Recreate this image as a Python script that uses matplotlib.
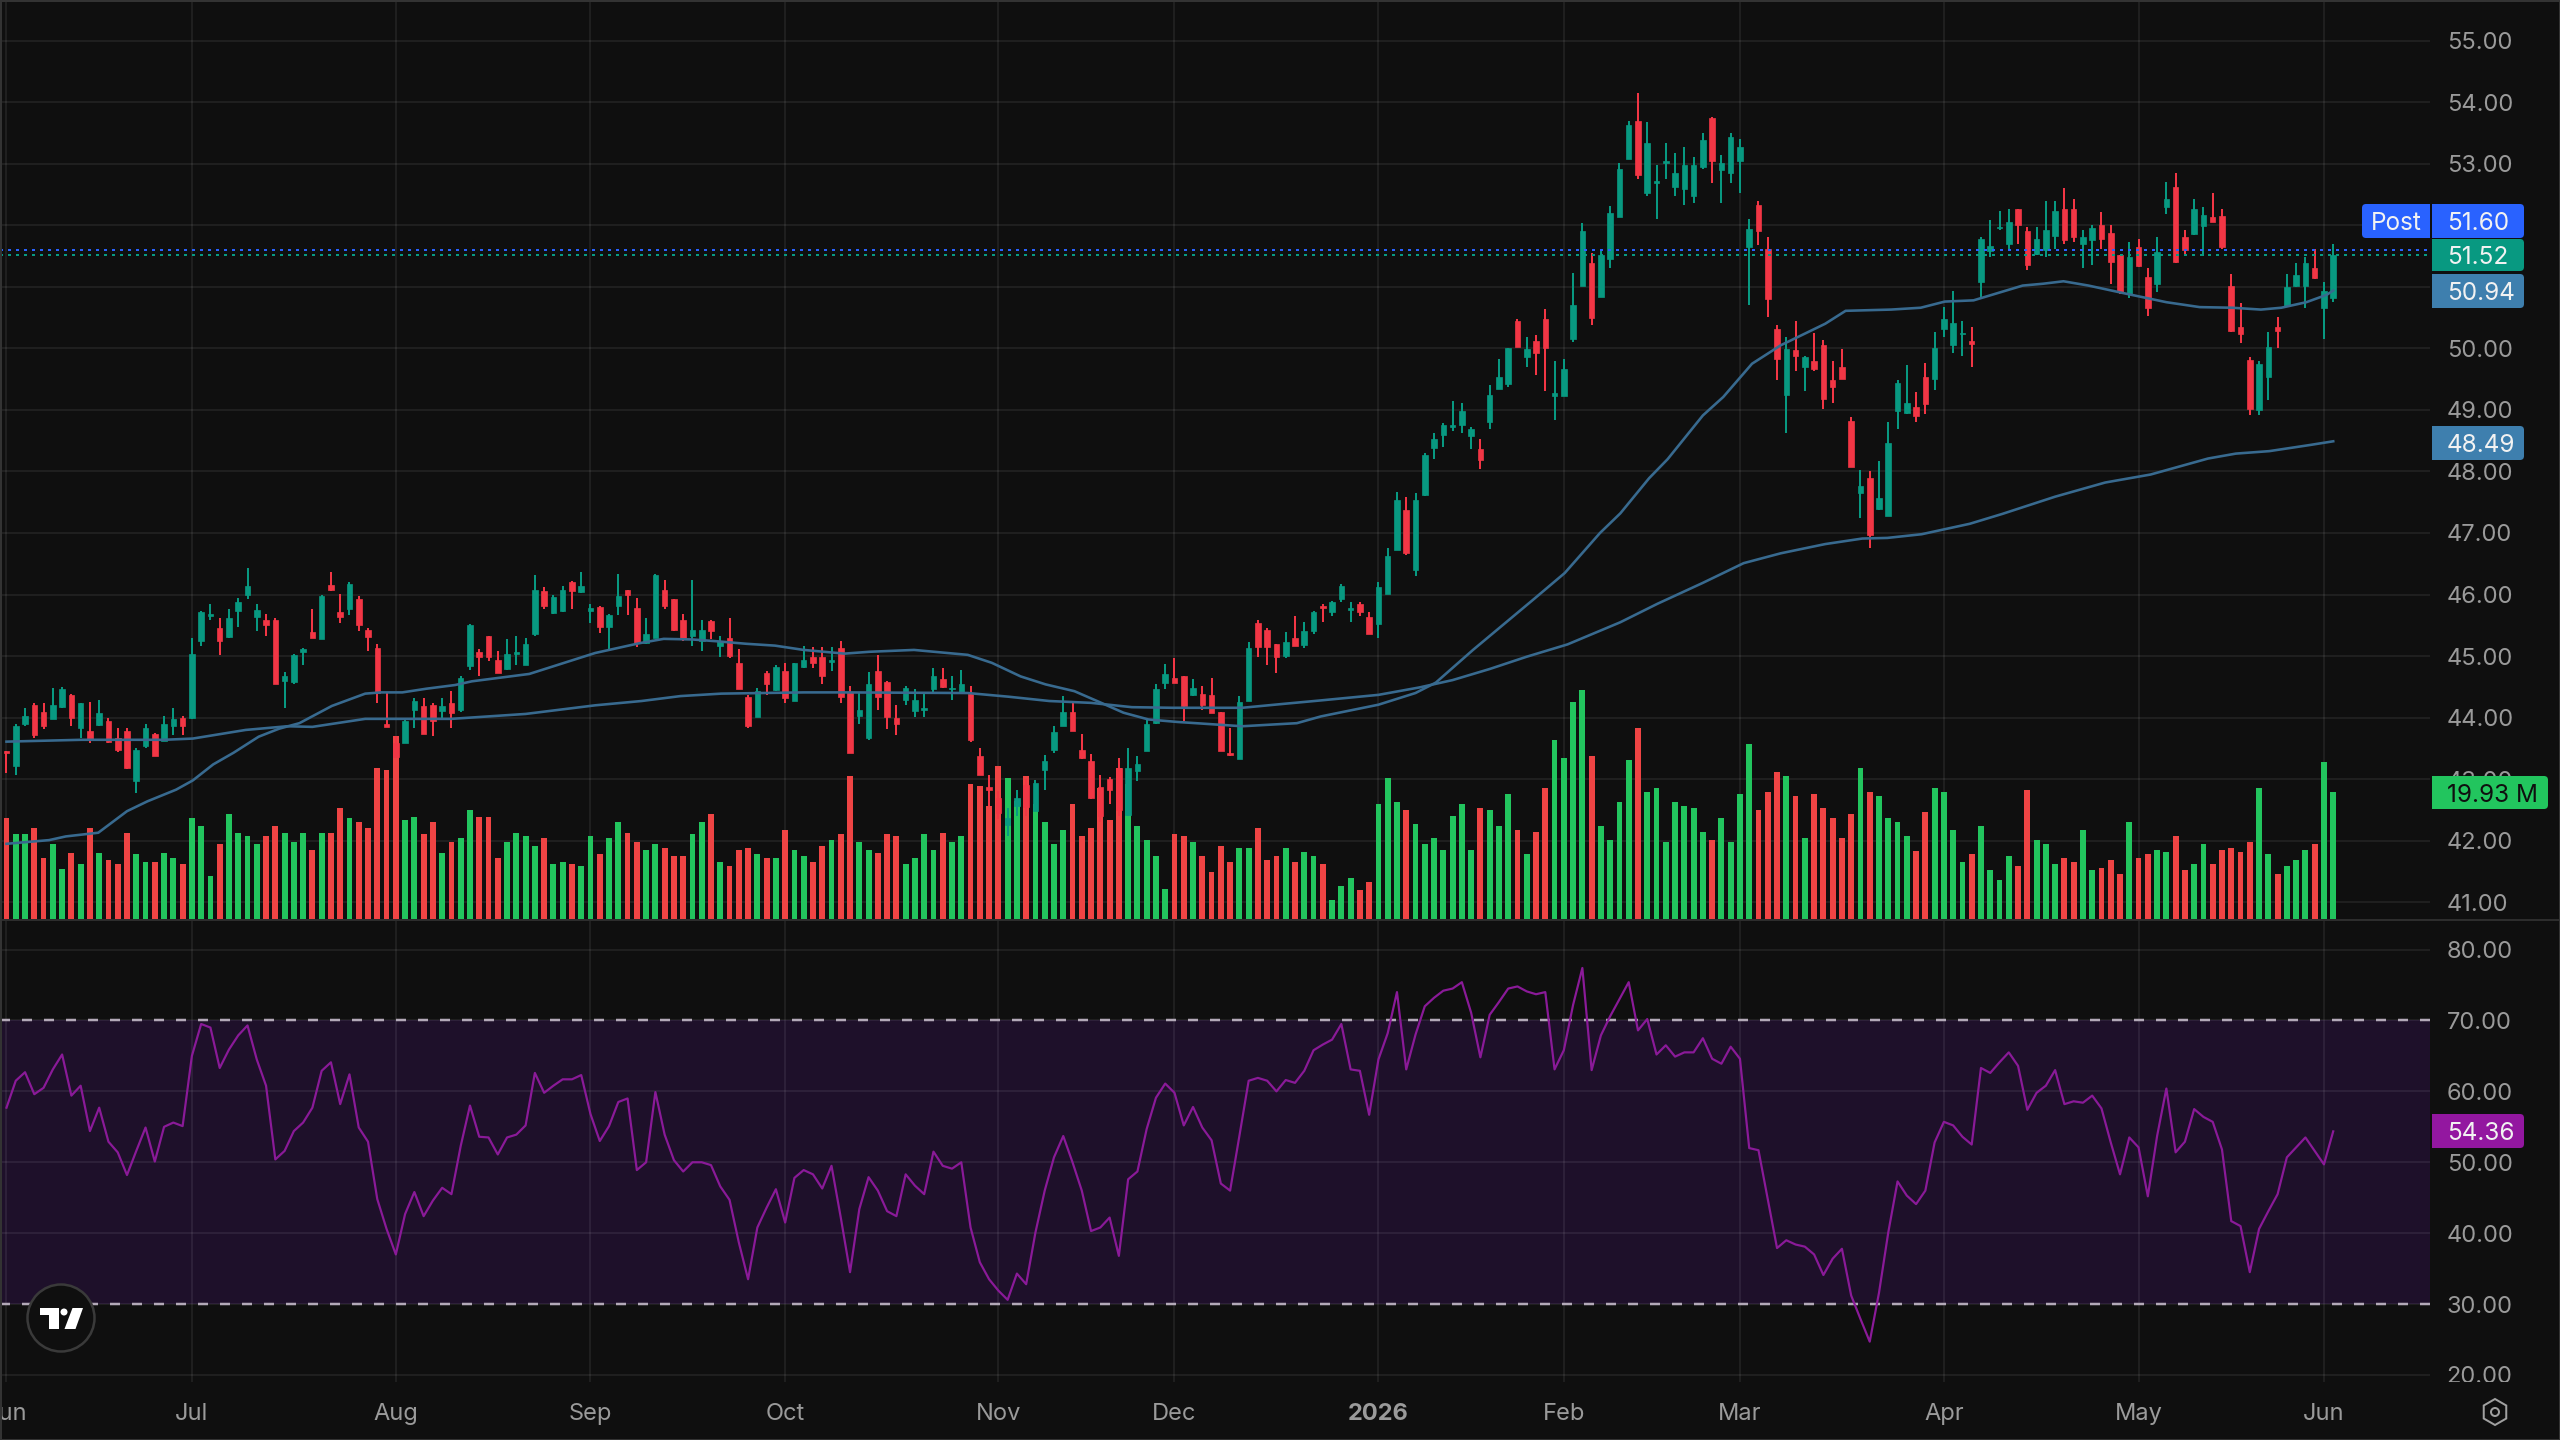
import matplotlib
matplotlib.use("Agg")
import matplotlib.pyplot as plt
from matplotlib.patches import Rectangle, FancyBboxPatch, Circle, Polygon, RegularPolygon

plt.rcParams["font.family"] = ["Inter", "DejaVu Sans"]

# daily candles, oldest first
opens = [
    43.45, 43.22, 43.90, 44.20, 44.09, 43.98, 44.17, 44.36, 43.83, 43.78,
    43.88, 43.94, 43.67, 43.78, 42.97, 43.54, 43.74, 43.62, 43.87, 44.00,
    44.00, 45.24, 45.65, 45.46, 45.31, 45.73, 45.99, 45.63, 45.58, 45.59,
    44.59, 44.58, 45.07, 45.39, 45.27, 46.15, 45.72, 45.76, 45.92, 45.42,
    45.13, 43.90, 43.58, 43.59, 44.13, 44.19, 44.20, 44.10, 44.23, 44.12,
    44.84, 45.07, 45.32, 44.94, 44.79, 45.04, 44.85, 45.36, 46.05, 45.70,
    45.73, 46.21, 46.04, 45.73, 45.79, 45.47, 45.82, 46.07, 45.78, 45.21,
    45.30, 46.08, 45.92, 45.59, 45.33, 45.24, 45.57, 45.17, 45.30, 44.88,
    44.33, 44.01, 44.72, 44.45, 44.75, 44.27, 44.82, 44.99, 44.99, 44.91,
    45.13, 44.41, 44.02, 43.67, 44.75, 44.58, 44.00, 44.29, 44.10, 44.13,
    44.46, 44.62, 44.46, 44.41, 44.39, 43.38, 42.87, 42.70, 42.25, 42.56,
    42.90, 42.48, 43.15, 43.48, 43.87, 44.09, 43.47, 43.29, 42.88, 43.00,
    43.18, 42.41, 43.13, 43.45, 43.91, 44.56, 44.65, 44.68, 44.36, 44.39,
    44.36, 44.09, 43.42, 43.32, 44.27, 45.53, 45.43, 45.20,
    45.00, 45.29, 45.18, 45.40, 45.81, 45.71, 45.92, 45.75, 45.85, 45.64,
    45.52, 46.01, 46.72, 47.37, 46.40, 47.61, 48.38, 48.59, 48.72, 48.76,
    48.57, 48.37, 48.80, 49.34, 49.42, 50.45, 49.86, 50.12, 50.48, 49.22,
    49.23, 50.15, 51.01, 51.38, 50.84, 51.45, 52.14, 53.08, 53.70, 52.53,
    52.68, 53.01, 52.62, 52.59, 52.47, 52.94, 53.74, 52.89, 52.85, 53.05,
    51.65, 52.33, 51.62, 50.32, 49.24, 49.98, 49.69, 49.79, 50.06, 49.48,
    49.69, 48.82, 47.65, 47.89, 47.39, 47.27, 48.99, 48.95, 49.04,
    49.54, 49.51, 50.32, 50.06, 50.23, 50.12, 51.07, 51.58, 51.95, 51.69,
    52.27, 51.91, 51.54, 51.59, 51.83, 52.27, 52.27, 51.69, 51.76, 52.00,
    51.88, 51.51, 50.89, 51.65, 51.16, 51.05, 52.30, 52.62, 51.81, 51.85,
    51.99, 52.14, 52.15, 51.02, 50.35, 49.81, 49.00, 49.54, 50.35, 50.69,
    51.01, 51.02, 51.30, 50.65, 50.82,
]
closes = [
    43.42, 43.87, 44.03, 43.72, 43.87, 44.20, 44.46, 44.00, 44.23, 43.66,
    44.07, 43.60, 43.48, 43.18, 43.48, 43.83, 43.38, 43.90, 43.97, 43.87,
    45.04, 45.72, 45.69, 45.24, 45.62, 45.88, 46.14, 45.75, 45.50, 44.55,
    44.68, 45.01, 45.11, 45.30, 45.98, 46.08, 45.63, 46.17, 45.50, 45.31,
    44.40, 43.84, 43.36, 43.94, 44.27, 43.74, 43.94, 44.19, 44.08, 44.65,
    45.50, 44.98, 44.99, 44.73, 45.04, 45.06, 45.20, 46.08, 45.82, 45.96,
    46.08, 46.05, 46.14, 45.78, 45.47, 45.66, 45.97, 45.99, 45.21, 45.36,
    46.31, 45.82, 45.43, 45.30, 45.43, 45.43, 45.40, 45.24, 45.00, 44.46,
    43.87, 44.43, 44.55, 44.82, 44.32, 44.88, 44.94, 44.88, 44.68, 44.94,
    44.34, 43.43, 44.13, 44.55, 44.34, 44.01, 43.90, 44.48, 44.29, 44.16,
    44.68, 44.49, 44.48, 44.55, 43.63, 43.06, 42.83, 42.45, 42.37, 42.70,
    42.55, 42.93, 43.30, 43.77, 44.09, 43.78, 43.35, 42.70, 42.40, 42.83,
    42.50, 43.18, 43.25, 43.90, 44.46, 44.71, 44.56, 44.19, 44.48, 44.20,
    44.08, 43.45, 43.39, 44.26, 45.13, 45.15, 45.15, 44.99,
    45.23, 45.17, 45.40, 45.72, 45.78, 45.88, 46.14, 45.78, 45.71, 45.36,
    46.13, 46.63, 47.53, 46.67, 47.53, 48.27, 48.53, 48.76, 48.76, 48.98,
    48.69, 48.18, 49.24, 49.53, 50.00, 50.03, 49.99, 49.93, 50.00, 49.27,
    49.67, 50.70, 51.90, 50.49, 51.52, 52.20, 52.92, 53.63, 52.81, 53.34,
    52.72, 53.04, 52.85, 52.98, 52.98, 53.38, 53.05, 53.01, 53.44, 53.27,
    51.94, 51.91, 50.80, 49.83, 49.99, 49.87, 49.86, 49.67, 49.18, 49.38,
    49.50, 48.07, 47.76, 46.97, 47.57, 48.46, 49.44, 49.11, 48.90,
    49.09, 50.00, 50.48, 50.42, 50.25, 50.07, 51.78, 51.66, 51.97, 52.05,
    52.01, 51.36, 51.78, 51.92, 52.23, 51.76, 51.81, 51.81, 51.95, 51.78,
    51.40, 50.92, 51.49, 51.33, 50.65, 51.56, 52.42, 51.40, 51.59, 52.27,
    52.16, 52.05, 51.65, 50.28, 50.23, 49.02, 49.74, 50.02, 50.28, 51.00,
    51.19, 51.38, 51.14, 50.93, 51.52,
]
highs = [
    43.45, 43.90, 44.16, 44.23, 44.23, 44.48, 44.50, 44.39, 44.24, 44.26,
    44.29, 44.00, 43.83, 43.83, 43.51, 43.90, 43.75, 44.02, 44.16, 44.02,
    45.30, 45.73, 45.85, 45.62, 45.76, 45.95, 46.43, 45.85, 45.69, 45.62,
    44.74, 45.04, 45.13, 45.76, 46.00, 46.37, 46.01, 46.20, 45.98, 45.46,
    45.20, 44.40, 43.70, 43.97, 44.32, 44.32, 44.24, 44.32, 44.43, 44.67,
    45.52, 45.11, 45.33, 45.08, 45.27, 45.33, 45.30, 46.31, 46.12, 46.00,
    46.14, 46.22, 46.37, 45.85, 45.82, 45.69, 46.34, 46.08, 45.95, 45.62,
    46.34, 46.24, 45.92, 45.69, 46.24, 45.59, 45.59, 45.32, 45.62, 45.11,
    44.37, 44.48, 44.75, 44.85, 44.88, 44.88, 45.17, 45.14, 45.14, 45.14,
    45.24, 44.52, 44.40, 44.74, 45.01, 44.59, 44.20, 44.52, 44.46, 44.41,
    44.81, 44.81, 44.68, 44.78, 44.52, 43.51, 43.06, 42.80, 42.53, 42.83,
    43.00, 42.99, 43.39, 43.86, 44.35, 44.23, 43.74, 43.41, 43.06, 43.04,
    43.34, 43.51, 43.38, 43.97, 44.55, 44.87, 44.97, 44.68, 44.62, 44.52,
    44.65, 44.09, 43.83, 44.35, 45.23, 45.59, 45.46, 45.20,
    45.39, 45.65, 45.55, 45.73, 45.85, 45.90, 46.17, 45.88, 45.88, 45.71,
    46.20, 46.75, 47.66, 47.59, 47.65, 48.30, 48.63, 48.78, 49.14, 49.11,
    48.72, 48.53, 49.41, 49.83, 50.00, 50.48, 50.18, 50.21, 50.64, 49.80,
    49.83, 51.22, 52.03, 51.55, 51.60, 52.32, 53.01, 53.69, 54.15, 53.67,
    52.98, 53.34, 53.18, 53.27, 53.11, 53.50, 53.76, 53.14, 53.50, 53.40,
    52.10, 52.39, 51.81, 50.38, 50.18, 50.44, 49.88, 50.25, 50.14, 49.79,
    49.99, 48.89, 48.02, 48.00, 48.17, 48.81, 49.48, 49.73, 49.29,
    49.77, 50.26, 50.67, 50.94, 50.44, 50.35, 51.81, 52.08, 52.23, 52.27,
    52.27, 51.97, 51.97, 52.40, 52.40, 52.60, 52.43, 51.92, 52.00, 52.21,
    52.01, 51.52, 51.72, 51.78, 51.31, 51.81, 52.70, 52.85, 51.92, 52.43,
    52.30, 52.53, 52.27, 51.20, 50.74, 49.86, 49.79, 50.26, 50.51, 51.20,
    51.39, 51.49, 51.61, 51.07, 51.69,
]
lows = [
    43.10, 43.06, 43.86, 43.67, 43.81, 43.97, 44.16, 43.87, 43.67, 43.58,
    43.86, 43.58, 43.44, 43.16, 42.77, 43.51, 43.38, 43.62, 43.71, 43.71,
    43.97, 45.17, 45.59, 45.01, 45.30, 45.47, 45.92, 45.40, 45.33, 44.55,
    44.16, 44.55, 44.85, 45.30, 45.27, 46.05, 45.53, 45.66, 45.40, 45.08,
    44.24, 43.84, 43.35, 43.58, 43.83, 43.74, 43.70, 44.00, 43.83, 44.09,
    44.78, 44.68, 44.92, 44.72, 44.78, 44.85, 44.85, 45.33, 45.76, 45.69,
    45.72, 45.76, 46.03, 45.53, 45.37, 45.11, 45.66, 45.66, 45.15, 45.20,
    45.30, 45.76, 45.40, 45.24, 45.17, 45.08, 45.27, 44.99, 44.97, 44.46,
    43.83, 44.01, 44.36, 44.43, 44.23, 44.27, 44.81, 44.81, 44.55, 44.75,
    44.23, 43.43, 43.90, 43.64, 44.13, 43.81, 43.71, 44.20, 44.01, 44.01,
    44.39, 44.48, 44.29, 44.39, 43.61, 43.06, 42.56, 42.35, 42.07, 42.40,
    42.40, 42.48, 42.83, 43.43, 43.87, 43.78, 43.32, 42.67, 42.30, 42.60,
    42.40, 42.40, 42.97, 43.45, 43.90, 44.46, 44.56, 43.94, 44.35, 44.13,
    44.08, 43.45, 43.38, 43.32, 44.27, 44.99, 44.85, 44.73,
    44.97, 45.16, 45.13, 45.36, 45.55, 45.65, 45.88, 45.55, 45.65, 45.36,
    45.29, 46.01, 46.72, 46.65, 46.30, 47.60, 48.20, 48.40, 48.66, 48.63,
    48.37, 48.04, 48.69, 49.34, 49.37, 50.03, 49.69, 49.57, 49.31, 48.83,
    49.22, 50.10, 51.01, 50.38, 50.84, 51.30, 52.14, 53.08, 52.75, 52.47,
    52.10, 52.75, 52.47, 52.33, 52.36, 52.92, 52.69, 52.36, 52.69, 52.53,
    50.71, 51.68, 50.51, 49.48, 48.63, 49.64, 49.31, 49.64, 49.02, 49.11,
    49.50, 48.07, 47.24, 46.75, 47.38, 47.27, 48.69, 48.93, 48.80,
    48.94, 49.32, 50.19, 49.93, 49.87, 49.70, 50.82, 51.49, 51.92, 51.59,
    51.69, 51.27, 51.52, 51.49, 51.62, 51.70, 51.73, 51.30, 51.36, 51.62,
    51.04, 50.89, 50.82, 51.32, 50.53, 50.92, 52.19, 51.38, 51.52, 51.84,
    51.50, 52.05, 51.62, 50.26, 50.09, 48.92, 48.92, 49.16, 50.00, 50.67,
    51.00, 50.66, 51.13, 50.16, 50.75,
]

# volume in millions
volumes = [
    15.8, 13.4, 13.4, 14.3, 9.6, 11.8, 8.0, 10.5, 8.7, 14.3,
    10.5, 9.3, 8.7, 13.6, 10.3, 9.0, 9.0, 10.5, 9.6, 8.7,
    15.8, 14.6, 6.9, 11.8, 16.5, 13.6, 13.1, 11.8, 13.1, 14.6,
    13.6, 12.1, 13.6, 10.9, 13.6, 13.6, 17.4, 15.8, 15.2, 14.3,
    23.6, 23.4, 28.6, 15.6, 16.1, 13.4, 15.2, 10.5, 12.1, 12.7,
    17.1, 16.1, 16.1, 9.6, 12.1, 13.6, 13.1, 11.5, 12.7, 8.7,
    9.0, 8.7, 8.4, 13.1, 10.3, 12.7, 15.2, 13.6, 12.1,
    10.9, 11.8, 11.2, 10.0, 10.0, 13.4, 15.2, 16.5, 9.0, 8.4,
    10.9, 11.2, 10.3, 9.6, 9.6, 14.0, 10.9, 10.0, 9.0, 11.5,
    12.5, 13.4, 22.4, 12.1, 10.9, 10.5, 13.4, 13.1, 8.7, 9.6,
    13.4, 10.9, 13.6, 12.1, 13.1, 21.2, 20.9, 17.8, 24.0, 22.1,
    18.5, 22.4, 18.1, 15.2, 11.8, 14.0, 18.1, 13.1, 14.3, 20.5,
    15.6, 23.6, 21.2, 14.6, 12.5, 10.0, 4.9, 13.4, 13.1, 12.1,
    10.0, 7.5, 11.5, 9.0, 11.2, 11.2, 14.3, 9.3, 10.0,
    11.2, 9.0, 10.6, 10.0, 8.7, 3.1, 5.3, 6.5, 4.7, 5.9,
    18.1, 22.1, 18.4, 17.1, 14.9, 11.8, 12.8, 10.9, 16.2, 18.1,
    10.9, 17.4, 17.1, 14.6, 19.6, 14.0, 10.3, 13.7, 20.6, 28.0,
    25.2, 33.9, 35.8, 25.5, 14.6, 12.5, 18.4, 24.9, 29.9, 19.9,
    20.6, 12.1, 18.4, 17.8, 17.4, 13.7, 12.5, 15.9, 12.1, 19.6,
    27.4, 17.1, 19.9, 23.0, 22.4, 19.3, 12.8, 19.6, 17.4, 15.9,
    12.8, 16.5, 23.7, 19.9, 19.3, 15.9, 15.3, 13.1, 10.8,
    16.8, 20.6, 19.9, 14.0, 9.0, 10.3, 14.6, 7.8, 6.2, 10.0,
    8.4, 20.2, 12.5, 11.8, 8.7, 9.7, 9.0, 14.0, 7.8, 8.1,
    9.3, 7.2, 15.3, 9.7, 10.3, 10.9, 10.6, 13.1, 7.8, 8.7,
    11.8, 8.7, 10.9, 11.2, 10.6, 12.1, 20.6, 10.3, 7.2, 8.4,
    9.3, 10.9, 11.8, 24.6, 19.93,
]

rsi = [
    57.7, 61.5, 62.7, 59.6, 60.5, 63.1, 65.2, 59.4, 60.8, 54.4,
    57.7, 52.9, 51.4, 48.2, 51.6, 54.9, 50.1, 55.0, 55.6, 55.1,
    65.0, 69.5, 69.0, 63.3, 65.9, 67.9, 69.3, 64.5, 60.8, 50.4,
    51.6, 54.4, 55.6, 57.7, 62.9, 64.1, 58.2, 62.4, 54.9, 52.9,
    44.8, 40.6, 37.0, 42.7, 45.8, 42.4, 44.6, 46.4, 45.5, 52.3,
    58.0, 53.6, 53.5, 51.1, 53.5, 53.9, 55.2, 62.6, 59.8, 60.8,
    61.7, 61.7, 62.3, 56.8, 53.0, 55.1, 58.5, 59.0, 48.9, 50.0,
    59.9, 53.9, 50.3, 48.7, 50.0, 50.0, 49.6, 46.6, 44.7, 38.7,
    33.5, 40.8, 43.6, 46.2, 41.5, 47.8, 48.9, 48.3, 46.3, 49.5,
    42.2, 34.5, 43.4, 47.9, 46.0, 43.1, 42.4, 48.3, 46.7, 45.5,
    51.5, 49.5, 49.1, 50.0, 40.8, 35.9, 33.5, 31.9, 30.6, 34.3,
    32.8, 40.1, 46.0, 50.7, 53.7, 50.0, 46.0, 40.3, 40.8, 42.2,
    36.8, 47.6, 48.7, 54.7, 59.1, 61.1, 59.8, 55.2, 57.8, 54.9,
    53.1, 47.0, 46.0, 53.7, 61.5, 61.9, 61.5, 60.0,
    61.6, 61.2, 62.9, 65.8, 66.6, 67.3, 69.5, 63.1, 62.9, 56.7,
    64.5, 68.2, 74.0, 63.1, 68.0, 72.0, 73.2, 74.2, 74.5, 75.4,
    71.1, 64.8, 70.8, 72.6, 74.5, 74.8, 74.1, 73.7, 74.0, 63.1,
    65.8, 72.2, 77.4, 63.0, 67.9, 70.6, 73.0, 75.4, 68.6, 70.2,
    65.2, 66.5, 64.9, 65.5, 65.5, 67.5, 64.6, 63.9, 66.3, 64.6,
    52.0, 51.7, 44.8, 37.9, 39.0, 38.4, 38.1, 37.0, 34.1, 36.4,
    37.8, 31.2, 27.9, 24.7, 31.6, 40.1, 47.3, 45.3, 44.1,
    46.0, 52.8, 55.7, 55.2, 53.6, 52.5, 63.3, 62.6, 64.1, 65.5,
    63.6, 57.4, 59.8, 60.8, 63.0, 58.2, 58.6, 58.4, 59.4, 57.6,
    52.8, 48.3, 53.5, 52.1, 45.2, 53.7, 60.4, 51.4, 52.9, 57.5,
    56.4, 55.7, 51.8, 41.7, 41.0, 34.5, 40.6, 43.1, 45.5, 50.7,
    52.1, 53.5, 51.6, 49.7, 54.36,
]

# moving averages, read at the bar positions listed alongside
ma50_pos = [
    0, 4.6, 6.4, 9.9, 13, 15.2, 18.3, 20.1, 22.3, 24.5, 27.2, 29.4, 31.6, 35.1,
    38.7, 40.4, 42.7, 45.3, 48.4, 50.2, 56.4, 61.2, 63.5, 68.3, 70.9, 74, 76.7,
    79.8, 82.9, 86, 90.4, 93.1, 97.9, 103.7, 106.3, 109.4, 112.1, 115.2, 117.8,
    120.5, 123.2, 126.3, 133.3, 139.2, 141.8, 148, 152, 154.2, 158.2, 161.7,
    164.8, 168.1, 171.9, 174.1, 177.2, 179.2, 183, 185.2, 188.3, 191.4, 193.6,
    196.2, 198.4, 203.3, 206.5, 209.1, 212.2, 217.5, 219.7, 221.9, 224.6, 228.6,
    233, 236.6, 240.1, 243.2, 245.4, 248.1, 250.3, 251,
]
ma50 = [
    41.95, 42.01, 42.07, 42.13, 42.48, 42.64, 42.83, 42.98, 43.24, 43.43, 43.69,
    43.82, 43.91, 44.19, 44.39, 44.41, 44.41, 44.47, 44.53, 44.59, 44.71, 44.94,
    45.05, 45.21, 45.28, 45.27, 45.24, 45.20, 45.17, 45.10, 45.04, 45.07, 45.10,
    45.02, 44.89, 44.67, 44.54, 44.43, 44.26, 44.08, 43.97, 43.93, 43.86, 43.91,
    44.02, 44.21, 44.40, 44.57, 45.10, 45.54, 45.93, 46.35, 47.00, 47.32, 47.89,
    48.20, 48.91, 49.21, 49.75, 50.05, 50.21, 50.40, 50.61, 50.63, 50.66, 50.76,
    50.78, 51.02, 51.05, 51.09, 51.02, 50.89, 50.75, 50.67, 50.66, 50.63, 50.66,
    50.75, 50.87, 50.94,
]
ma200_pos = [
    0, 8.1, 17, 20.1, 25.8, 30.3, 33, 38.7, 43.5, 48, 56, 63.5, 68.5, 72.7, 77.1,
    86, 90.4, 103.7, 108.1, 112.5, 117, 121.4, 125.8, 133.3, 137.5, 141.8, 148,
    152.4, 156, 160, 164, 168.4, 174.1, 178.1, 183, 187.4, 191.4, 196.2, 200.2,
    202.9, 206.6, 211.8, 215.3, 221, 226.4, 231.3, 237.5, 240.5, 244.1, 248.5, 251,
]
ma200 = [
    43.61, 43.64, 43.64, 43.66, 43.80, 43.86, 43.85, 43.98, 43.98, 43.98, 44.06,
    44.20, 44.27, 44.35, 44.39, 44.41, 44.41, 44.40, 44.34, 44.27, 44.24, 44.17,
    44.16, 44.16, 44.22, 44.28, 44.37, 44.49, 44.61, 44.79, 44.99, 45.19, 45.55,
    45.85, 46.19, 46.51, 46.67, 46.82, 46.91, 46.92, 46.98, 47.15, 47.31, 47.59,
    47.82, 47.95, 48.21, 48.29, 48.33, 48.43, 48.49,
]

price_ticks = [41, 42, 43, 44, 45, 46, 47, 48, 49, 50, 51, 52, 53, 54, 55]
rsi_ticks = [20, 30, 40, 50, 60, 70, 80]
month_pos = [0, 20, 42, 63, 84, 107, 126, 148, 168, 187, 209, 230, 250]
month_labels = ["Jun", "Jul", "Aug", "Sep", "Oct", "Nov", "Dec", "2026",
                "Feb", "Mar", "Apr", "May", "Jun"]

post_price = 51.60
last_price = 51.52

BG = "#0f0f0f"
UP = "#089981"
DOWN = "#f23645"
VOL_UP = "#22c55e"
VOL_DOWN = "#ef4444"
MA = "#386a8f"
RSI_LINE = "#8a1a98"
BAND = "#1e102a"
GRID_ALPHA = 0.07
LABEL = "#9a9a9a"
PX = 0.72  # one pixel in points at 100 dpi

W, H = 2560, 1440
AXIS_X = 2430
PANE_Y = 920
RSI_BOTTOM = 1382
XLIM = (-0.70, 261.44)

fig = plt.figure(figsize=(W / 100, H / 100), dpi=100, facecolor=BG)


def pane(top, bottom, zorder, ylim):
    a = fig.add_axes([0, (H - bottom) / H, AXIS_X / W, (bottom - top) / H], zorder=zorder)
    a.set_xlim(*XLIM)
    a.set_ylim(*ylim)
    return a


# price pane: grid below, then volume, then candles
price_lim = (40.712, 55.66)
ax = pane(0, PANE_Y, 1, price_lim)
ax.set_facecolor(BG)
ax_vol = pane(0, PANE_Y, 2, (0, 143.2))
ax_vol.axis("off")
ax_c = pane(0, PANE_Y, 3, price_lim)
ax_c.axis("off")

ax.set_xticks(month_pos)
ax.set_xticklabels([])
ax.set_yticks(price_ticks)
ax.set_yticklabels(["%.2f" % p for p in price_ticks], fontsize=17, color=LABEL)
ax.yaxis.tick_right()
ax.tick_params(axis="both", length=0)
ax.tick_params(axis="y", pad=12)
ax.grid(True, color="white", alpha=GRID_ALPHA, lw=2 * PX)
ax.set_axisbelow(True)
for s in ax.spines.values():
    s.set_visible(False)

x = list(range(len(closes)))
candle_up = [c >= o for o, c in zip(opens, closes)]

ax_vol.bar(x, volumes, width=0.63, color=[VOL_UP if u else VOL_DOWN for u in candle_up], lw=0)

colors = [UP if u else DOWN for u in candle_up]
ax_c.vlines(x, lows, highs, colors=colors, lw=2 * PX, zorder=2)
ax_c.bar(x, [abs(c - o) for o, c in zip(opens, closes)],
         bottom=[min(o, c) for o, c in zip(opens, closes)],
         width=0.6, color=colors, edgecolor=colors, lw=0.5, zorder=3)

ax_c.plot(ma50_pos, ma50, color=MA, lw=2.6 * PX, zorder=4)
ax_c.plot(ma200_pos, ma200, color=MA, lw=2.6 * PX, zorder=4)

ax_c.axhline(post_price, color="#2962ff", lw=2 * PX, ls=(0, (1.5, 2.5)), zorder=5)
ax_c.axhline(last_price, color=UP, lw=2 * PX, ls=(0, (1.5, 2.5)), zorder=5)

# RSI pane
ax_r = pane(PANE_Y, RSI_BOTTOM, 1, (19.01, 84.17))
ax_r.set_facecolor(BG)
ax_r.axhspan(30, 70, color=BAND, lw=0, zorder=0)
ax_r.set_xticks(month_pos)
ax_r.set_xticklabels(month_labels, fontsize=17, color=LABEL)
ax_r.get_xticklabels()[7].set_fontweight("bold")
ax_r.set_yticks(rsi_ticks)
ax_r.set_yticklabels(["%.2f" % r for r in rsi_ticks], fontsize=17, color=LABEL)
ax_r.yaxis.tick_right()
ax_r.tick_params(axis="both", length=0)
ax_r.tick_params(axis="y", pad=12)
ax_r.tick_params(axis="x", pad=15)
ax_r.grid(True, color="white", alpha=GRID_ALPHA, lw=2 * PX)
ax_r.set_axisbelow(False)
for s in ax_r.spines.values():
    s.set_visible(False)
for level in (70, 30):
    ax_r.axhline(level, color="#b3a9b8", lw=2.5 * PX, ls=(0, (4, 4.8)), zorder=3)
ax_r.plot(x, rsi, color=RSI_LINE, lw=2.2 * PX, zorder=4)

# overlay in pixel coordinates for the tags, logo and border
top = fig.add_axes([0, 0, 1, 1], zorder=10)
top.set_xlim(0, W)
top.set_ylim(H, 0)
top.axis("off")

# the time scale sits over the lower edge of the RSI scale
top.add_patch(Rectangle((AXIS_X + 1, RSI_BOTTOM), W - AXIS_X, 58, color=BG, lw=0, zorder=1))
top.plot([0, W], [PANE_Y, PANE_Y], color="#2d2d2d", lw=2 * PX, zorder=2)
top.add_patch(Rectangle((0.5, 0.5), W - 1, H - 1, fill=False, ec="#333333", lw=2 * PX, zorder=2))


def tag(x0, x1, y0, y1, color, text, text_color="#f2f2f2", flat="left"):
    r = 4
    top.add_patch(FancyBboxPatch((x0 + r, y0 + r), x1 - x0 - 2 * r, y1 - y0 - 2 * r,
                                 boxstyle="round,pad=%d,rounding_size=%d" % (r, r),
                                 fc=color, ec="none", zorder=3))
    if flat == "left":
        top.add_patch(Rectangle((x0, y0), 2 * r, y1 - y0, fc=color, ec="none", zorder=3))
    else:
        top.add_patch(Rectangle((x1 - 2 * r, y0), 2 * r, y1 - y0, fc=color, ec="none", zorder=3))
    top.text((x0 + x1) / 2 if flat == "right" else x0 + 15, (y0 + y1) / 2, text,
             color=text_color, fontsize=17.5,
             ha="center" if flat == "right" else "left", va="center_baseline", zorder=4)


tag(2362, 2430, 204, 238, "#2962ff", "Post", flat="right")
tag(2432, 2524, 204, 238, "#2962ff", "%.2f" % post_price)
tag(2432, 2524, 239, 271, UP, "%.2f" % last_price)
tag(2432, 2524, 274, 308, "#3e7fae", "%.2f" % ma50[-1])
tag(2432, 2524, 426, 460, "#3e7fae", "%.2f" % ma200[-1])
tag(2432, 2548, 776, 809, VOL_UP, "%.2f M" % volumes[-1], text_color="#0f0f0f")
tag(2432, 2524, 1114, 1148, "#9317a0", "%.2f" % rsi[-1])

# logo badge
top.add_patch(Circle((61, 1318), 33.5, fc=BG, ec="#3a3a3a", lw=2.5 * PX, zorder=5))
top.add_patch(Polygon([(39.5, 1308), (59, 1308), (59, 1329), (49, 1329), (49, 1315), (39.5, 1315)],
                      fc="white", ec="none", zorder=6))
top.add_patch(Circle((64, 1312), 3.5, fc="white", ec="none", zorder=6))
top.add_patch(Polygon([(72.5, 1308), (83, 1308), (75.5, 1329), (64.5, 1329)],
                      fc="white", ec="none", zorder=6))

# settings icon
top.add_patch(RegularPolygon((2495, 1412), 6, radius=13, orientation=0, fill=False,
                             ec="#a0a0a0", lw=2 * PX, zorder=5))
top.add_patch(Circle((2495, 1412), 4, fill=False, ec="#a0a0a0", lw=2 * PX, zorder=5))

fig.savefig("out.png", dpi=100, facecolor=BG)
